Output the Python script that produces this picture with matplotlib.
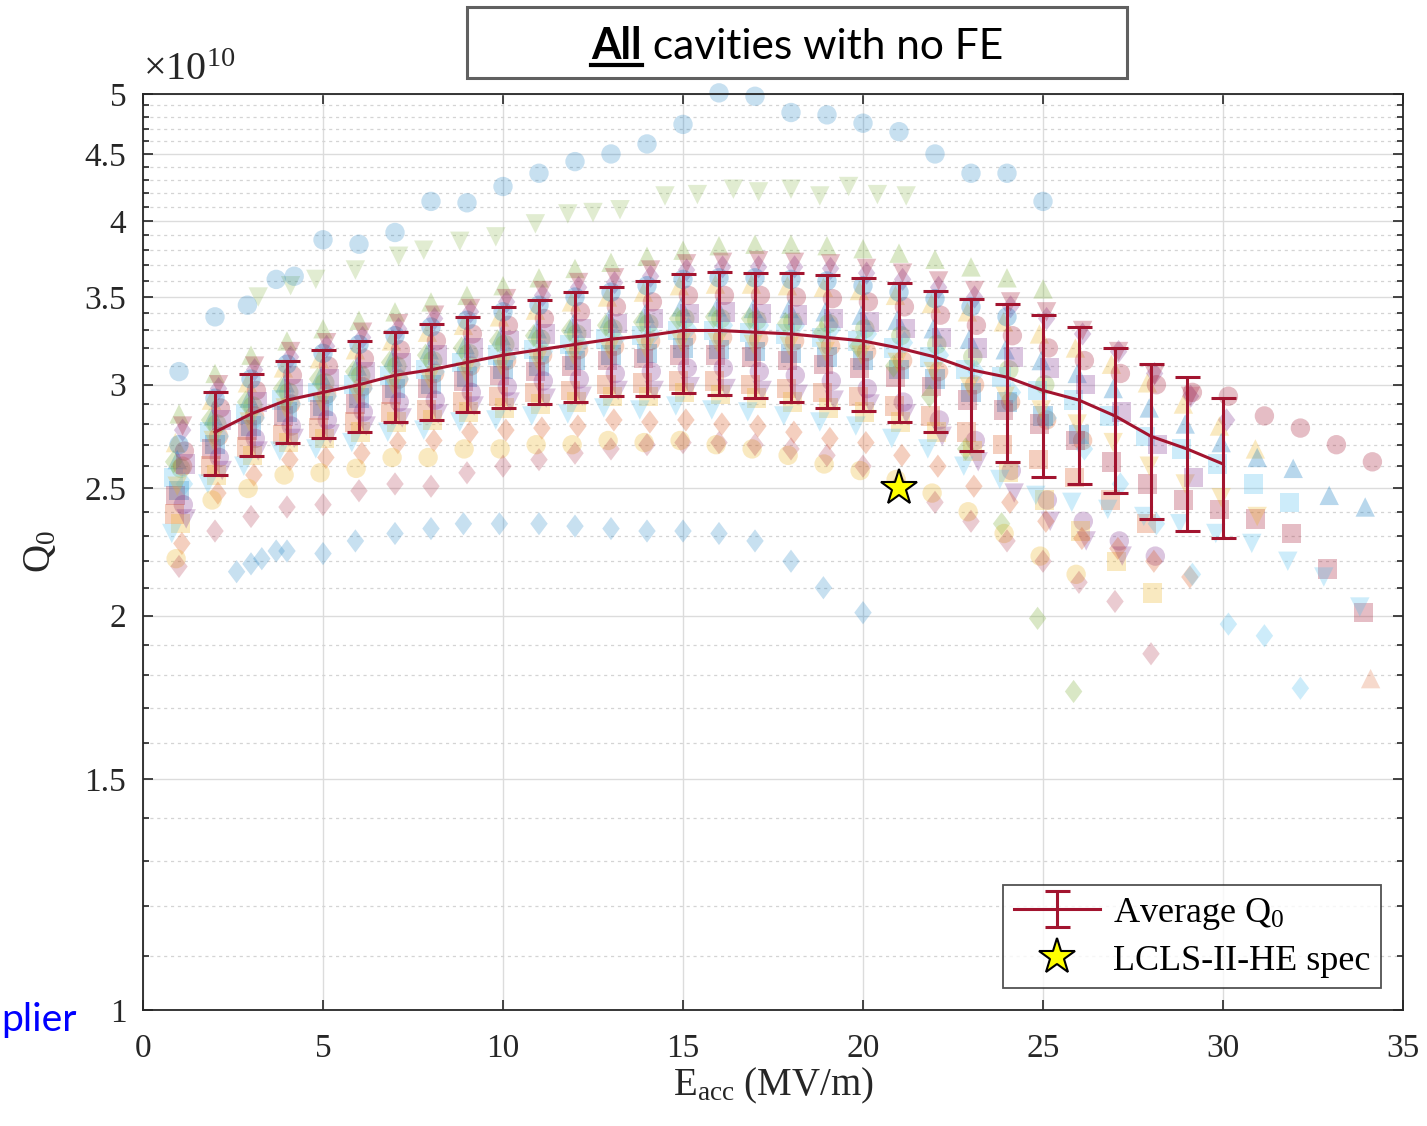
#!/usr/bin/env python3

import numpy as np
import matplotlib
matplotlib.use("Agg")
import matplotlib.pyplot as plt
from matplotlib.patches import Rectangle
from matplotlib.lines import Line2D
from matplotlib.ticker import FixedLocator, NullFormatter

# MATLAB default colour order
C = ['#0072BD', '#D95319', '#EDB120', '#7E2F8E', '#77AC30', '#4DBEEE', '#A2142F']

# ---- average curve with std error bars (Q0 in units of 1e10) ----
avg_e = [2, 3, 4, 5, 6, 7, 8, 9, 10, 11, 12, 13, 14, 15, 16, 17, 18, 19, 20,
         21, 22, 23, 24, 25, 26, 27, 28, 29, 30]
avg_q = [2.76, 2.85, 2.92, 2.96, 3.00, 3.05, 3.08, 3.12, 3.16, 3.19, 3.22,
         3.25, 3.27, 3.30, 3.30, 3.29, 3.28, 3.26, 3.24, 3.20, 3.15, 3.08,
         3.04, 2.97, 2.92, 2.84, 2.74, 2.68, 2.61]
avg_err = [0.20, 0.205, 0.21, 0.23, 0.24, 0.24, 0.26, 0.26, 0.28, 0.29, 0.31,
           0.31, 0.33, 0.345, 0.355, 0.36, 0.37, 0.38, 0.376, 0.39, 0.39,
           0.41, 0.42, 0.42, 0.40, 0.36, 0.37, 0.36, 0.32]

spec_e = [21]
spec_q = [2.5]

# ---- individual cavities with their own Eacc points ----
hi_e = [1, 2, 2.9, 3.7, 4.2, 5, 6, 7, 8, 9, 10, 11, 12, 13, 14, 15, 16, 17,
        18, 19, 20, 21, 22, 23, 24, 25]
hi_q = [3.07, 3.38, 3.45, 3.61, 3.63, 3.87, 3.84, 3.92, 4.14, 4.13, 4.25,
        4.35, 4.44, 4.50, 4.58, 4.74, 5.01, 4.98, 4.84, 4.82, 4.75, 4.68,
        4.50, 4.35, 4.35, 4.14]

gv_e = [3.2, 4.1, 4.8, 5.9, 7.1, 7.8, 8.8, 9.8, 10.9, 11.8, 12.5, 13.25,
        14.5, 15.4, 16.4, 17.1, 18.0, 18.8, 19.6, 20.4, 21.2]
gv_q = [3.50, 3.57, 3.61, 3.67, 3.76, 3.80, 3.86, 3.89, 3.98, 4.05, 4.06,
        4.08, 4.18, 4.19, 4.23, 4.21, 4.23, 4.18, 4.25, 4.19, 4.18]

ld_e = [2.6, 3.0, 3.3, 3.7, 4.0, 5.0, 5.9, 7.0, 8.0, 8.9, 9.9, 11.0, 12.0,
        13.0, 14.0, 15.0, 16.0, 17.0, 18.0, 18.9, 20.0]
ld_q = [2.16, 2.19, 2.21, 2.24, 2.24, 2.23, 2.28, 2.31, 2.33, 2.35, 2.35,
        2.35, 2.34, 2.33, 2.32, 2.32, 2.31, 2.28, 2.20, 2.10, 2.01]

pd_e = [1, 2, 3, 4, 5, 6, 7, 8, 9, 10, 11, 12, 13, 14, 15, 16, 17, 18, 19,
        20, 21, 22, 23, 24, 25, 26, 27, 28]
pd_q = [2.18, 2.32, 2.38, 2.42, 2.43, 2.49, 2.52, 2.51, 2.57, 2.60, 2.63,
        2.66, 2.68, 2.70, 2.71, 2.71, 2.70, 2.68, 2.65, 2.60, 2.52, 2.44,
        2.36, 2.28, 2.20, 2.12, 2.05, 1.87]

# ---- bulk cavities, measured at Eacc = 1, 2, 3 ... MV/m (+ small offset) ----
cav_q = [
    [2.85, 3.06, 3.16, 3.24, 3.31, 3.36, 3.41, 3.47, 3.51, 3.57, 3.62, 3.68, 3.72, 3.76, 3.80, 3.83, 3.84, 3.84, 3.83, 3.81, 3.78, 3.74, 3.69, 3.62, 3.55],
    [2.77, 2.98, 3.08, 3.15, 3.21, 3.26, 3.31, 3.37, 3.41, 3.47, 3.51, 3.56, 3.59, 3.63, 3.67, 3.69, 3.69, 3.69, 3.68, 3.65, 3.61, 3.56, 3.50, 3.44, 3.37, 3.28, 3.18, 3.06, 2.94, 2.82],
    [2.71, 2.92, 3.01, 3.09, 3.14, 3.19, 3.24, 3.29, 3.33, 3.38, 3.42, 3.47, 3.50, 3.53, 3.57, 3.58, 3.58, 3.57, 3.56, 3.54, 3.51, 3.46, 3.41, 3.35, 3.28, 3.20, 3.11, 3.01, 2.90, 2.79, 2.68],
    [2.67, 2.88, 2.97, 3.05, 3.10, 3.14, 3.19, 3.24, 3.28, 3.33, 3.37, 3.41, 3.44, 3.47, 3.51, 3.51, 3.51, 3.50, 3.49, 3.47, 3.44, 3.39, 3.33, 3.27, 3.20, 3.13, 3.06, 3.00, 2.96, 2.94, 2.84, 2.78, 2.70, 2.62],
    [2.63, 2.84, 2.93, 3.01, 3.05, 3.10, 3.15, 3.19, 3.22, 3.27, 3.31, 3.34, 3.37, 3.40, 3.44, 3.44, 3.43, 3.43, 3.41, 3.39, 3.36, 3.31, 3.25, 3.19, 3.13, 3.06, 2.98, 2.88, 2.80, 2.71, 2.64, 2.59, 2.47, 2.42],
    [2.59, 2.80, 2.89, 2.96, 3.01, 3.05, 3.10, 3.13, 3.17, 3.22, 3.25, 3.28, 3.31, 3.34, 3.37, 3.37, 3.36, 3.35, 3.34, 3.31, 3.27, 3.22, 3.15, 3.08, 3.00],
    [2.55, 2.76, 2.85, 2.92, 2.96, 3.00, 3.05, 3.08, 3.12, 3.16, 3.19, 3.22, 3.25, 3.27, 3.30, 3.30, 3.29, 3.28, 3.26, 3.24, 3.20, 3.15, 3.08, 3.04, 2.97, 2.92, 2.84, 2.74, 2.68, 2.61, 2.52, 2.44],
    [2.60, 2.74, 2.84, 2.90, 2.95, 2.99, 3.03, 3.06, 3.10, 3.13, 3.16, 3.19, 3.21, 3.24, 3.26, 3.26, 3.25, 3.24, 3.21, 3.18, 3.13, 3.07, 3.00, 2.91, 2.82, 2.72],
    [2.49, 2.70, 2.79, 2.86, 2.89, 2.93, 2.98, 3.00, 3.04, 3.08, 3.10, 3.13, 3.16, 3.17, 3.20, 3.19, 3.18, 3.17, 3.15, 3.13, 3.08, 3.03, 2.96, 2.91, 2.84, 2.75],
    [2.47, 2.68, 2.77, 2.84, 2.87, 2.90, 2.95, 2.98, 3.02, 3.05, 3.07, 3.10, 3.13, 3.14, 3.16, 3.16, 3.15, 3.13, 3.11, 3.09, 3.04, 2.99, 2.92, 2.87, 2.80, 2.72, 2.62, 2.52, 2.45, 2.41, 2.37, 2.31, 2.17, 2.01],
    [2.43, 2.64, 2.73, 2.79, 2.82, 2.86, 2.91, 2.92, 2.96, 2.99, 3.02, 3.03, 3.06, 3.07, 3.09, 3.09, 3.07, 3.05, 3.02, 2.98, 2.91, 2.82, 2.72, 2.58, 2.45, 2.36, 2.28, 2.22],
    [2.39, 2.60, 2.69, 2.75, 2.78, 2.81, 2.86, 2.87, 2.91, 2.94, 2.96, 2.97, 3.00, 3.01, 3.02, 3.02, 3.00, 2.98, 2.96, 2.94, 2.89, 2.84, 2.76, 2.70, 2.63, 2.55, 2.45, 2.35],
    [2.35, 2.56, 2.65, 2.71, 2.73, 2.76, 2.81, 2.82, 2.86, 2.88, 2.90, 2.91, 2.94, 2.94, 2.96, 2.95, 2.93, 2.91, 2.88, 2.86, 2.81, 2.76, 2.67, 2.57, 2.45, 2.32, 2.20, 2.08],
    [2.37, 2.58, 2.67, 2.73, 2.75, 2.79, 2.83, 2.85, 2.89, 2.91, 2.93, 2.94, 2.97, 2.97, 2.99, 2.98, 2.97, 2.95, 2.92, 2.90, 2.85, 2.74, 2.62, 2.48, 2.36, 2.28, 2.22],
    [2.31, 2.52, 2.60, 2.67, 2.68, 2.71, 2.76, 2.77, 2.81, 2.82, 2.84, 2.85, 2.88, 2.87, 2.89, 2.87, 2.86, 2.84, 2.81, 2.79, 2.73, 2.68, 2.60, 2.54, 2.47, 2.44, 2.41, 2.38, 2.35, 2.31, 2.27, 2.20, 2.14, 2.03],
    [2.27, 2.48, 2.56, 2.63, 2.64, 2.66, 2.71, 2.72, 2.76, 2.77, 2.78, 2.79, 2.82, 2.81, 2.82, 2.80, 2.79, 2.76, 2.73, 2.71, 2.65, 2.60, 2.51, 2.44, 2.36, 2.29, 2.25, 2.20, 2.14],
    [2.21, 2.45, 2.50, 2.56, 2.57, 2.59, 2.64, 2.64, 2.68, 2.68, 2.70, 2.70, 2.72, 2.71, 2.72, 2.70, 2.68, 2.65, 2.61, 2.58, 2.54, 2.48, 2.40, 2.31, 2.22, 2.15],
    [2.52, 2.74, 2.83, 2.90, 2.94, 2.98, 3.03, 3.07, 3.11, 3.15, 3.18, 3.22, 3.25, 3.28, 3.31, 3.33, 3.33, 3.33, 3.31, 3.28, 3.23, 3.16, 3.07, 2.96, 2.83, 2.68, 2.52, 2.35, 2.15, 1.97, 1.93, 1.76],
    [2.62, 2.82, 2.91, 2.98, 3.03, 3.07, 3.12, 3.16, 3.20, 3.24, 3.27, 3.30, 3.33, 3.35, 3.37, 3.38, 3.37, 3.34, 3.29, 3.21, 3.10, 2.94, 2.68, 2.35, 1.99, 1.75],
    [2.70, 2.93, 3.03, 3.11, 3.17, 3.22, 3.27, 3.32, 3.36, 3.41, 3.45, 3.50, 3.53, 3.57, 3.61, 3.62, 3.62, 3.61, 3.60, 3.57, 3.53, 3.49, 3.44, 3.38],
    [2.79, 3.00, 3.10, 3.18, 3.23, 3.29, 3.34, 3.39, 3.43, 3.49, 3.54, 3.59, 3.62, 3.67, 3.71, 3.72, 3.73, 3.72, 3.71, 3.68, 3.65, 3.60, 3.54, 3.47, 3.41, 3.30, 3.18, 3.05, 2.94],
    [2.51, 2.72, 2.81, 2.88, 2.91, 2.95, 3.00, 3.03, 3.07, 3.10, 3.13, 3.16, 3.19, 3.20, 3.23, 3.23, 3.22, 3.21, 3.18, 3.16, 3.12, 3.07, 2.99, 2.94, 2.87, 2.80, 2.71, 2.60, 2.52, 2.46, 2.38],
    [2.61, 2.82, 2.91, 2.98, 3.03, 3.07, 3.12, 3.16, 3.20, 3.24, 3.28, 3.31, 3.34, 3.37, 3.40, 3.41, 3.40, 3.39, 3.37, 3.35, 3.31, 3.26, 3.20, 3.15, 3.09, 3.00, 2.86, 2.70, 2.55],
]
cav_color = [4, 3, 2, 6, 0, 4, 5, 1, 0, 6, 3, 1, 2, 3, 5, 1, 2, 5, 4, 0, 6, 2, 3]
cav_marker = ['^', 'D', '^', 'o', '^', 'o', 's', 'o', 's', 's', 'o', 's', 's',
              'v', 'v', 'D', 'o', 'D', 'D', 'o', 'v', 'v', 's']
cav_shift = [0.0, 0.1, -0.1, 0.15, -0.05, 0.05, -0.15, 0.1, 0.0, -0.1, 0.12,
             -0.12, 0.05, 0.2, -0.2, 0.08, -0.08, 0.15, -0.15, 0.0, 0.1,
             -0.05, 0.18]

lone_e = [34.1]
lone_q = [1.79]

W, H = 1427, 1126
DIAM = [(0, 1), (0.75, 0), (0, -1), (-0.75, 0), (0, 1)]


def mk(m):
    return DIAM if m == 'D' else m


def msize(m):
    return 280 if m == 'D' else 195


def main():
    plt.rcParams['font.family'] = ['Liberation Serif', 'DejaVu Serif']
    plt.rcParams['mathtext.fontset'] = 'custom'
    plt.rcParams['mathtext.rm'] = 'Liberation Serif'
    plt.rcParams['mathtext.it'] = 'Liberation Serif:italic'

    fig = plt.figure(figsize=(W / 100, H / 100), dpi=100)
    ax = fig.add_axes([143 / W, 116 / H, 1260 / W, 916 / H])
    ax.set_yscale('log')

    a = 0.28
    for q, c, m, dx in zip(cav_q, cav_color, cav_marker, cav_shift):
        e = np.arange(1, len(q) + 1) + dx
        ax.scatter(e, q, s=msize(m), marker=mk(m), color=C[c], alpha=a,
                   edgecolors='none', zorder=2)
    ax.scatter(pd_e, pd_q, s=280, marker=DIAM, color=C[6], alpha=0.22,
               edgecolors='none', zorder=2)
    ax.scatter(ld_e, ld_q, s=280, marker=DIAM, color=C[0], alpha=0.22,
               edgecolors='none', zorder=2)
    ax.scatter(gv_e, gv_q, s=195, marker='v', color=C[4], alpha=0.22,
               edgecolors='none', zorder=2)
    ax.scatter(hi_e, hi_q, s=195, marker='o', color=C[0], alpha=0.22,
               edgecolors='none', zorder=2, clip_on=False)
    ax.scatter(lone_e, lone_q, s=195, marker='^', color=C[1], alpha=0.22,
               edgecolors='none', zorder=2)

    red = '#A2142F'
    eb = ax.errorbar(avg_e, avg_q, yerr=avg_err, color=red, lw=2.2,
                     elinewidth=2.2, capsize=9, capthick=2.2, zorder=5)
    star, = ax.plot(spec_e, spec_q, ls='none', marker='*', ms=27,
                    mfc='yellow', mec='black', mew=1.5, zorder=6)

    ax.set_xlim(0, 35)
    ax.set_ylim(1, 5)
    ax.set_xticks(np.arange(0, 36, 5))
    major = [1, 1.5, 2, 2.5, 3, 3.5, 4, 4.5, 5]
    ax.yaxis.set_major_locator(FixedLocator(major))
    ax.set_yticklabels(['1', '1.5', '2', '2.5', '3', '3.5', '4', '4.5', '5'])
    minor = [v / 10 for v in range(11, 50) if v % 5 != 0]
    ax.yaxis.set_minor_locator(FixedLocator(minor))
    ax.yaxis.set_minor_formatter(NullFormatter())

    ax.grid(which='major', color='#dcdcdc', lw=1.0, zorder=0)
    ax.yaxis.grid(which='minor', color='#d4d4d4', lw=0.9, ls=(0, (2.5, 3)))
    ax.set_axisbelow(True)

    ink = '#262626'
    ax.tick_params(which='both', direction='in', top=True, right=True,
                   colors=ink, labelsize=24, width=1.2)
    ax.tick_params(which='major', length=7)
    ax.tick_params(which='minor', length=4)
    ax.tick_params(axis='x', which='major', pad=17)
    ax.tick_params(axis='y', which='major', pad=12)
    for sp in ax.spines.values():
        sp.set_color(ink)
        sp.set_linewidth(1.3)

    ax.set_xlabel('E$_{\\rm acc}$ (MV/m)', fontsize=28, color=ink, labelpad=1)
    ax.set_ylabel('Q$_0$', fontsize=28, color=ink, labelpad=18)
    ax.text(0.0, 1.006, r'$\times10^{10}$', transform=ax.transAxes,
            fontsize=29, color=ink, ha='left', va='bottom')

    leg = ax.legend([eb, star], ['Average Q$_0$', 'LCLS-II-HE spec'],
                    loc='lower right', fontsize=26, frameon=True,
                    fancybox=False, edgecolor=ink, borderaxespad=0.6,
                    handlelength=2.4, handletextpad=0.35, borderpad=0.3,
                    labelspacing=0.35)
    leg.get_frame().set_linewidth(1.3)

    # boxed title above the axes
    fig.patches.append(Rectangle((467 / W, 1 - 78 / H), 660 / W, 71 / H,
                                 transform=fig.transFigure, fill=False,
                                 ec='#606060', lw=2.2))
    base = 1 - 59 / H
    size = 30
    r = fig.canvas.get_renderer()
    t1 = fig.text(0, base, 'All', family='Lato', weight='bold', size=size,
                  va='baseline')
    t2 = fig.text(0, base, ' cavities with no FE', family='Lato', size=size,
                  va='baseline')
    w = (t1.get_window_extent(r).width + t2.get_window_extent(r).width)
    size = size * 413 / w
    t1.set_size(size)
    t2.set_size(size)
    w1 = t1.get_window_extent(r).width
    w2 = t2.get_window_extent(r).width
    x0 = 797 - (w1 + w2) / 2
    t1.set_x(x0 / W)
    t2.set_x((x0 + w1) / W)
    fig.add_artist(Line2D([x0 / W, (x0 + w1) / W], [1 - 65 / H, 1 - 65 / H],
                          transform=fig.transFigure, color='black', lw=3))

    fig.text(1 / W, 1 - 1031 / H, 'plier', family='Lato', size=size * 0.92,
             color='#0000FF', ha='left', va='baseline')

    fig.savefig('out.png', dpi=100)


if __name__ == "__main__":
    main()
